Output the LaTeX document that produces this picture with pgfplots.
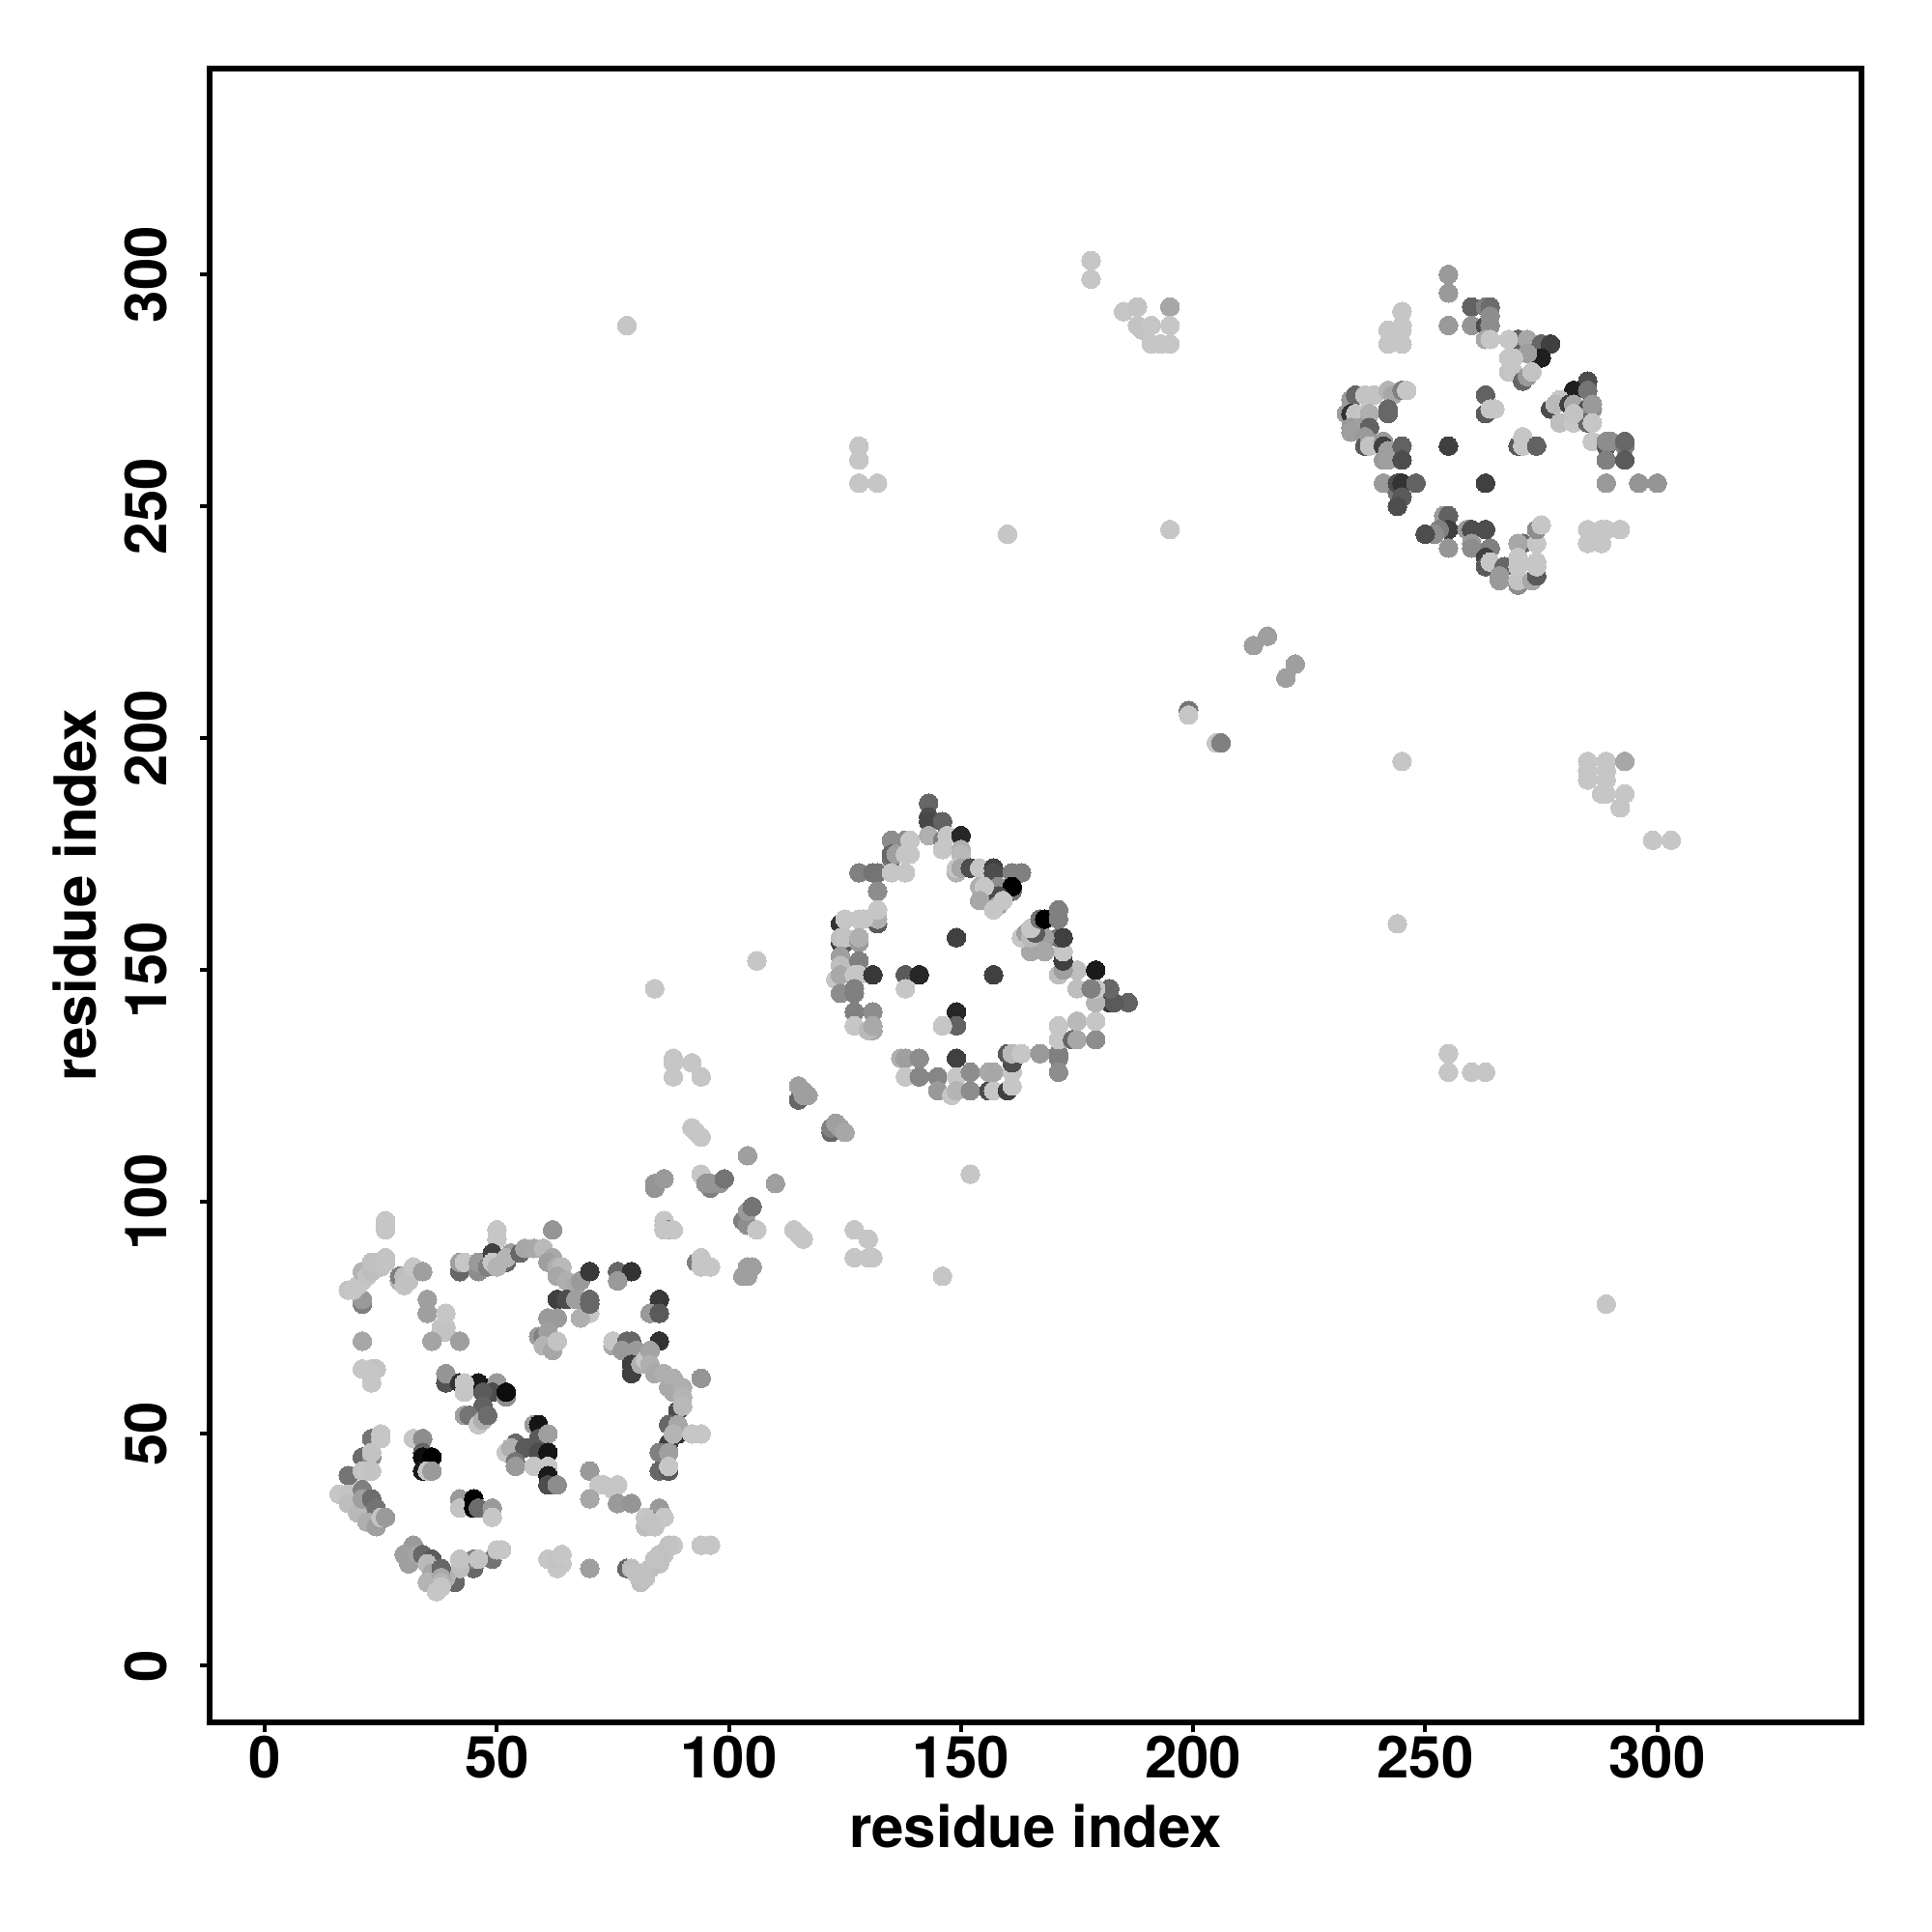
\documentclass[border=0pt]{standalone}
\usepackage{fontspec}
\setmainfont{TeX Gyre Heros}
\usepackage{pgfplots}
\usepackage{pgfplotstable}
\pgfplotsset{compat=1.18}
\pgfplotstableread{
x y g
26 96 77
26 95 77
26 94 77
21 78 50
21 79 60
18 81 76
19 81 77
20 82 77
21 83 77
21 85 70
22 84 76
23 85 74
23 87 75
24 87 75
26 88 76
25 86 75
26 87 76
29 83 70
29 84 50
30 84 74
30 82 76
31 83 75
32 86 77
34 85 62
35 79 62
35 76 62
39 76 77
38 73 77
39 73 77
38 72 76
39 72 76
36 70 64
42 70 62
21 70 65
21 64 77
23 64 77
24 64 76
23 63 77
23 61 77
50 94 77
50 92 77
62 94 58
42 85 40
42 87 62
43 87 77
46 85 55
46 87 60
49 89 25
48 86 50
49 87 77
52 87 40
50 86 70
53 89 62
52 88 70
55 89 40
56 90 65
58 90 66
60 90 72
62 88 66
61 87 62
63 86 68
64 86 72
63 84 65
65 83 68
67 82 66
68 83 60
70 85 22
76 85 40
79 85 20
76 83 60
63 79 25
65 79 30
67 79 62
70 76 77
68 75 68
70 79 40
70 78 40
61 75 60
63 75 60
59 71 60
60 71 50
61 72 62
60 69 70
62 68 65
63 70 76
85 79 22
83 76 60
85 76 35
85 70 20
75 69 65
75 70 77
78 70 40
79 70 40
77 68 60
80 68 60
79 63 25
79 65 25
81 65 68
82 66 77
83 68 64
83 65 68
84 63 66
86 63 68
87 60 66
88 62 68
88 59 66
89 55 30
90 60 68
90 58 70
90 56 72
94 62 58
87 52 40
89 50 18
89 52 65
87 48 25
88 50 70
92 50 77
94 50 77
85 46 50
87 46 62
85 42 40
87 42 35
87 43 77
39 61 32
39 63 58
42 61 20
46 61 10
43 61 77
43 59 77
50 61 60
49 59 30
47 59 35
52 58 55
52 59 5
47 56 38
43 54 62
44 54 45
46 52 77
47 53 68
48 54 42
58 52 60
59 52 8
59 49 35
61 50 62
54 48 40
52 46 77
53 47 68
56 47 35
59 46 30
61 46 8
54 44 45
54 43 60
58 43 77
61 43 77
61 41 10
61 39 30
63 39 55
70 42 60
72 39 77
73 39 77
75 38 77
76 39 77
70 36 65
76 35 60
79 35 58
85 34 60
84 31 50
82 30 74
82 32 77
84 30 76
86 32 77
83 31 76
88 26 77
87 26 76
94 26 77
96 26 77
86 24 76
85 24 75
85 22 75
83 21 74
84 23 76
78 21 40
79 21 74
81 18 74
82 19 75
80 20 75
81 20 75
70 21 62
61 23 77
63 21 77
64 22 77
63 23 76
64 24 77
49 23 45
50 25 77
51 25 77
45 21 40
45 23 50
46 23 76
41 18 40
42 21 74
42 23 76
39 19 70
32 26 60
30 24 62
31 22 62
33 24 64
34 24 40
36 23 35
35 22 72
36 20 65
35 18 70
38 21 40
38 19 65
38 18 70
37 16 77
38 17 77
23 49 45
25 50 77
25 49 77
21 45 42
23 45 55
23 46 76
18 41 45
21 42 76
22 42 77
23 42 76
16 37 77
18 37 76
18 35 74
20 33 72
21 38 50
21 36 62
23 36 42
24 34 45
22 31 68
24 30 62
25 32 76
26 32 60
32 49 77
34 49 55
34 46 40
34 45 5
36 45 0
34 42 10
35 42 77
36 42 60
42 34 15
42 36 60
42 34 76
45 36 0
45 34 0
46 34 42
49 34 60
49 32 77
143 186 40
143 183 30
143 182 28
146 182 38
143 179 68
146 178 50
147 179 77
150 179 15
146 176 77
150 176 68
150 175 72
149 171 70
149 172 77
150 172 65
152 172 30
154 172 77
157 172 25
157 171 30
161 171 50
163 171 50
158 168 55
161 167 45
161 168 0
158 166 30
154 168 68
155 168 77
154 165 65
158 164 60
157 163 77
159 165 77
135 178 55
138 178 55
139 178 77
135 174 45
135 175 40
136 175 62
138 175 77
139 175 77
128 171 50
131 171 45
132 171 45
135 171 77
138 171 77
132 167 55
132 160 35
131 161 35
132 161 68
132 163 77
124 160 20
125 161 77
128 161 77
129 161 77
124 156 25
125 156 35
124 157 74
125 157 76
128 156 60
128 157 68
124 153 62
124 151 74
128 152 50
123 148 77
124 149 66
127 149 77
128 149 77
124 145 55
127 146 50
127 145 50
131 149 22
127 141 50
131 141 55
127 138 77
131 137 65
130 137 72
131 138 66
138 149 35
141 149 15
138 146 77
149 157 25
157 149 25
149 141 15
149 138 38
146 138 77
149 131 25
137 131 68
138 131 62
141 131 55
138 127 77
141 127 52
145 127 52
145 124 60
148 123 77
149 127 77
149 124 70
152 128 55
152 124 55
156 124 30
157 124 77
156 128 66
157 128 65
160 124 25
161 125 77
161 128 77
161 130 30
160 132 35
161 132 72
163 132 77
167 132 60
171 131 50
171 132 50
171 128 55
171 135 77
171 138 77
174 135 40
175 135 65
175 139 72
179 135 55
179 139 77
186 143 38
182 143 22
183 143 35
182 146 40
179 143 70
179 146 77
175 146 74
178 146 50
175 150 74
179 150 10
171 149 74
172 150 62
172 152 25
172 154 77
171 157 45
172 157 25
168 157 62
168 154 65
165 154 65
163 157 77
164 158 62
165 157 72
166 158 35
165 159 77
167 161 45
168 161 0
171 163 50
171 161 50
255 300 60
255 296 60
255 289 60
260 293 38
263 293 50
264 293 42
260 289 58
263 289 30
264 291 55
264 289 55
263 286 65
264 286 77
245 292 77
245 289 77
242 288 77
245 288 77
242 285 77
245 285 77
270 286 38
268 286 77
272 286 65
275 285 40
277 285 25
275 282 12
272 283 62
268 282 77
269 282 77
268 279 76
269 279 77
271 277 40
272 278 60
273 279 76
285 277 30
282 275 12
285 275 45
279 273 77
277 271 30
278 272 72
281 272 25
282 272 65
285 271 30
286 271 55
286 272 60
279 268 74
282 268 77
285 268 40
286 268 77
282 270 76
263 274 38
263 270 35
264 271 77
265 271 77
270 263 35
271 265 77
271 263 77
274 263 38
255 263 25
263 255 25
286 264 77
289 263 35
289 264 55
290 264 55
293 263 50
293 264 40
289 260 50
293 260 35
289 255 60
296 255 58
300 255 58
285 245 77
288 245 77
289 245 77
292 245 77
285 242 77
288 242 77
234 273 60
235 274 40
237 274 76
239 274 76
242 275 70
243 274 65
245 275 50
246 275 77
233 270 62
234 270 20
235 270 76
237 270 77
238 270 68
242 271 40
242 270 40
234 267 60
234 266 62
236 267 62
238 267 38
237 265 60
237 263 35
238 264 60
238 263 76
241 264 60
241 263 25
242 262 62
241 260 60
242 260 62
245 263 38
245 260 30
241 255 60
244 253 45
244 255 30
245 255 20
248 255 38
245 252 35
244 250 30
254 248 60
255 248 38
255 245 25
253 245 50
252 244 55
250 244 30
255 241 58
259 245 60
260 245 30
263 245 30
260 242 60
260 241 55
264 241 50
263 239 25
263 237 35
264 238 77
267 237 40
266 235 60
266 234 60
270 233 55
270 234 76
271 242 40
270 242 65
270 239 77
270 237 77
273 234 65
274 235 35
274 237 77
274 238 77
274 242 77
274 245 55
275 246 77
78 289 77
178 303 77
178 299 77
185 292 77
188 293 76
188 289 76
189 288 76
191 289 77
191 285 77
193 285 77
195 293 65
195 289 77
195 285 77
128 263 77
128 260 77
128 255 77
132 255 77
160 244 77
195 245 77
213 220 62
216 222 62
222 216 62
220 213 62
199 206 45
199 205 77
205 199 77
206 199 50
245 195 77
285 195 77
289 195 77
293 195 65
285 191 77
285 193 77
289 191 77
289 193 77
288 188 77
289 188 77
293 188 77
292 185 77
299 178 77
303 178 77
244 160 77
106 152 77
84 146 77
255 132 77
255 128 77
260 128 77
263 128 77
152 106 77
146 84 77
289 78 77
88 131 77
88 130 77
92 130 77
88 127 77
94 127 77
115 122 40
115 125 62
116 124 62
116 123 62
117 123 62
122 115 40
122 116 50
123 117 62
124 116 62
125 115 65
92 116 77
93 115 77
94 114 77
104 110 62
110 104 62
94 106 77
96 103 50
95 104 58
96 104 58
98 104 58
99 105 45
84 103 58
84 104 58
86 105 60
86 96 77
86 95 77
87 94 50
86 94 77
88 94 77
103 96 50
104 95 55
104 98 60
105 99 45
106 94 77
114 94 77
115 93 77
116 92 77
127 94 77
130 92 77
127 88 77
130 88 77
131 88 77
93 87 50
94 88 77
94 86 77
96 86 77
103 84 62
104 84 62
104 86 62
105 86 62
}\pts
\begin{document}
\begin{tikzpicture}[x=1pt,y=1pt]
\useasboundingbox (-54.25pt,-54.25pt) rectangle (445.75pt,445.75pt);
\begin{axis}[
  at={(0pt,0pt)}, anchor=south west,
  scale only axis, width=427.5pt, height=428pt,
  xmin=-11.9, xmax=344, ymin=-12.2, ymax=344.4,
  xtick={0,50,100,150,200,250,300}, ytick={0,50,100,150,200,250,300},
  axis line style={line width=1.5pt},
  tick align=outside, tick pos=left,
  major tick length=2.6pt,
  tick style={black,line width=1pt},
  /pgf/number format/assume math mode=true,
  tick label style={font=\fontsize{15}{18}\selectfont\bfseries},
  label style={font=\fontsize{15}{18}\selectfont\bfseries},
  xticklabel style={yshift=2.5pt},
  yticklabel style={rotate=90,anchor=south,yshift=4.9pt},
  xlabel={residue index}, ylabel={residue index},
  xlabel style={at={(axis description cs:0.5,0)},anchor=north,yshift=-17.7pt},
  ylabel style={at={(axis description cs:0,0.5)},anchor=south,yshift=25.6pt},
  colormap={grr}{gray(0cm)=(0); gray(1cm)=(1)},
  point meta min=0, point meta max=100,
  clip=true,
]
\addplot[only marks, scatter, scatter src=explicit, mark=*, mark size=2.42pt,
  scatter/use mapped color={draw=mapped color,fill=mapped color},
  mark options={line width=0pt}] table[x=x,y=y,meta=g] {\pts};
\end{axis}
\end{tikzpicture}
\end{document}
